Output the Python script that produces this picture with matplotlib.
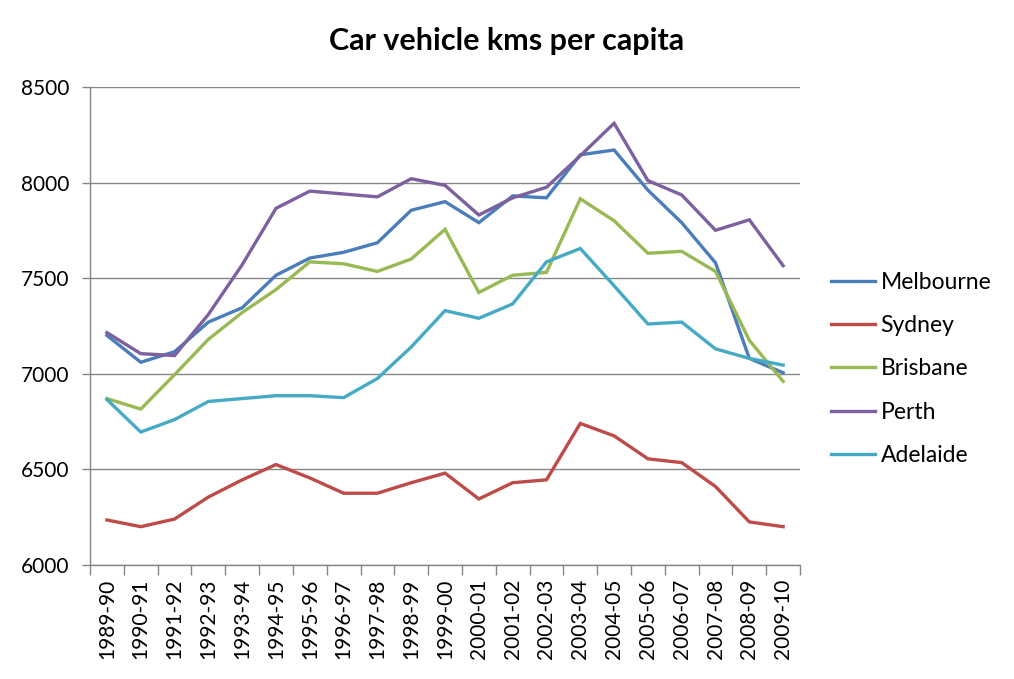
import matplotlib.pyplot as plt
from matplotlib.ticker import FixedLocator

plt.rcParams["font.family"] = ["Lato", "DejaVu Sans"]

years = [
    "1989-90", "1990-91", "1991-92", "1992-93", "1993-94", "1994-95", "1995-96",
    "1996-97", "1997-98", "1998-99", "1999-00", "2000-01", "2001-02", "2002-03",
    "2003-04", "2004-05", "2005-06", "2006-07", "2007-08", "2008-09", "2009-10",
]

melbourne = [7200, 7060, 7115, 7270, 7345, 7515, 7605, 7635, 7685, 7855, 7900,
             7790, 7930, 7920, 8145, 8170, 7960, 7790, 7580, 7080, 7005]
sydney = [6235, 6200, 6240, 6355, 6445, 6525, 6455, 6375, 6375, 6430, 6480,
          6345, 6430, 6445, 6740, 6675, 6555, 6535, 6410, 6225, 6200]
brisbane = [6870, 6815, 6995, 7180, 7320, 7440, 7585, 7575, 7535, 7600, 7755,
            7425, 7515, 7530, 7915, 7800, 7630, 7640, 7535, 7175, 6960]
perth = [7215, 7105, 7095, 7310, 7570, 7865, 7955, 7940, 7925, 8020, 7985,
         7830, 7920, 7975, 8140, 8310, 8010, 7935, 7750, 7805, 7565]
adelaide = [6865, 6695, 6760, 6855, 6870, 6885, 6885, 6875, 6975, 7140, 7330,
            7290, 7365, 7585, 7655, 7460, 7260, 7270, 7130, 7080, 7045]

series = [
    ("Melbourne", melbourne, "#4a7ebb"),
    ("Sydney", sydney, "#be4b48"),
    ("Brisbane", brisbane, "#98b954"),
    ("Perth", perth, "#7d60a0"),
    ("Adelaide", adelaide, "#46aac5"),
]

fig = plt.figure(figsize=(10.14, 6.79), dpi=100)
ax = fig.add_axes([0.0888, 0.168, 0.7002, 0.704])

x = list(range(len(years)))
for name, values, color in series:
    ax.plot(x, values, color=color, linewidth=2.4, label=name,
            solid_joinstyle="miter")

grid_color = "#868686"
ax.set_xlim(-0.5, len(years) - 0.5)
ax.set_ylim(6000, 8500)
ax.set_yticks([6000, 6500, 7000, 7500, 8000, 8500])
ax.yaxis.grid(True, color=grid_color, linewidth=1)
ax.set_axisbelow(True)

ax.set_xticks(x)
ax.set_xticklabels(years, rotation=90)
ax.xaxis.set_minor_locator(FixedLocator([i - 0.5 for i in range(len(years) + 1)]))
ax.tick_params(axis="x", which="major", length=0, labelsize=15, pad=10)
ax.tick_params(axis="x", which="minor", length=7, color=grid_color, width=1)
ax.tick_params(axis="y", length=6, color=grid_color, width=1, labelsize=15,
               pad=9)

for side in ["top", "right"]:
    ax.spines[side].set_visible(False)
for side in ["left", "bottom"]:
    ax.spines[side].set_color(grid_color)
    ax.spines[side].set_linewidth(1)

fig.text(0.5, 0.94, "Car vehicle kms per capita", ha="center", va="center",
         fontsize=22, fontweight="bold")

ax.legend(loc="center left", bbox_to_anchor=(1.015, 0.41), frameon=False,
          fontsize=16.5, handlelength=1.9, handletextpad=0.25,
          labelspacing=0.97)

fig.savefig("out.png", dpi=100, facecolor="white")
